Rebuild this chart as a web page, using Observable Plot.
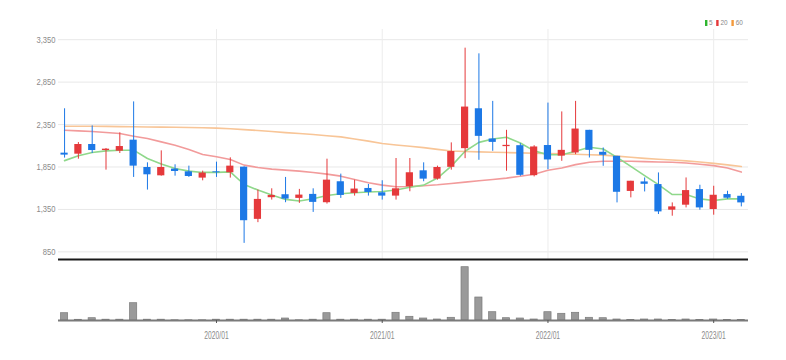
<!DOCTYPE html>
<html>
<head>
<meta charset="utf-8">
<script src="https://cdn.jsdelivr.net/npm/d3@7"></script>
<script src="https://cdn.jsdelivr.net/npm/@observablehq/plot@0.6"></script>
<style>
  body { margin: 0; background: #fff; }
  #wrap { position: relative; width: 786px; height: 360px; overflow: hidden; background: #fff; }
  #wrap svg { position: absolute; left: 0; top: 0; background: transparent; }
  #legend { position: absolute; left: 705px; top: 18px; display: flex; align-items: center; white-space: nowrap;
            font: 8px "Liberation Sans", Arial, sans-serif; color: #888;
            transform: scaleX(0.8); transform-origin: 0 50%; }
  #legend .sw { display: inline-block; width: 3px; height: 6px; margin-right: 2px; }
  #legend .lb { margin-right: 5px; }
</style>
</head>
<body>
<div id="wrap"></div>
<script>
const months = ["2019/02","2019/03","2019/04","2019/05","2019/06","2019/07","2019/08","2019/09","2019/10","2019/11","2019/12",
  "2020/01","2020/02","2020/03","2020/04","2020/05","2020/06","2020/07","2020/08","2020/09","2020/10","2020/11","2020/12",
  "2021/01","2021/02","2021/03","2021/04","2021/05","2021/06","2021/07","2021/08","2021/09","2021/10","2021/11","2021/12",
  "2022/01","2022/02","2022/03","2022/04","2022/05","2022/06","2022/07","2022/08","2022/09","2022/10","2022/11","2022/12",
  "2023/01","2023/02","2023/03"];
const open  = [2013,2001,2115,2044,2036,2166,1844,1746,1825,1793,1719,1793,1782,1848,1233,1488,1523,1480,1527,1429,1676,1539,1597,1546,1507,1617,1805,1707,1846,2066,2536,2180,2090,2101,1748,2103,1978,2015,2282,2023,1976,1562,1674,1643,1341,1400,1584,1349,1525,1505];
const high  = [2536,2138,2334,2068,2252,2617,1899,2040,1876,1860,1801,1907,1958,1852,1578,1593,1727,1586,1593,1942,1766,1695,1644,1688,1950,1950,1899,1860,2134,3250,3183,2623,2282,2125,2101,2603,2499,2623,2282,2074,1976,1682,1721,1780,1427,1721,1635,1623,1564,1537];
const low   = [1955,1942,2009,1813,2009,1727,1578,1742,1742,1727,1687,1727,1719, 950,1194,1460,1429,1421,1315,1413,1480,1507,1507,1460,1460,1558,1676,1695,1813,1948,1929,2035,1800,1740,1733,1819,1917,1995,1956,1858,1427,1486,1556,1290,1270,1368,1341,1282,1470,1380];
const close = [1990,2115,2044,2060,2091,1860,1758,1844,1797,1738,1778,1782,1860,1217,1468,1515,1472,1519,1433,1695,1515,1590,1550,1507,1593,1782,1707,1844,2032,2556,2211,2140,2105,1752,2086,1933,2046,2297,2046,1988,1552,1682,1646,1321,1380,1572,1368,1517,1482,1427];
const volume = [730,70,230,80,80,1730,80,80,20,20,20,80,80,80,80,80,200,20,80,730,80,80,80,80,770,370,200,100,270,5330,2300,830,230,200,100,830,670,770,270,230,100,40,100,100,40,100,40,100,40,40];
const ma5  = [1925,1982,2020,2040,2048,2048,1950,1884,1833,1801,1786,1786,1793,1644,1578,1519,1468,1450,1475,1515,1535,1546,1555,1562,1578,1612,1636,1720,1860,2035,2140,2180,2200,2133,2040,1995,1995,2035,2082,2062,1964,1858,1748,1643,1525,1525,1474,1455,1474,1474];
const ma20 = [2283,2275,2268,2256,2244,2213,2185,2146,2107,2056,1997,1970,1938,1872,1844,1825,1813,1801,1786,1766,1742,1703,1664,1636,1617,1621,1629,1640,1656,1672,1688,1703,1719,1740,1765,1811,1839,1878,1905,1917,1917,1917,1913,1909,1905,1897,1882,1866,1839,1790];
const ma60 = [2330,2330,2330,2328,2326,2324,2322,2320,2318,2315,2312,2308,2300,2290,2280,2268,2255,2244,2232,2218,2205,2180,2155,2127,2110,2095,2078,2058,2038,2032,2028,2024,2020,2016,2012,2008,2004,2000,1995,1990,1978,1965,1952,1942,1933,1922,1908,1893,1875,1855];
const priceTicks = [850,1350,1850,2350,2850,3350];
const xTickLabels = ["2020/01","2021/01","2022/01","2023/01"];
const maNames = ["5","20","60"];
const maColors = ["#8fd88b","#f29b9b","#f8c597"];
const legendColors = ["#2fb52f","#e5393b","#f39a3c"];

const RED = "#e5393b", BLUE = "#1c78e6";
const idx = s => { const [y, m] = s.split("/").map(Number); return (y - 2019) * 12 + (m - 1); };
const rows = months.map((mo, k) => ({
  i: idx(mo), open: open[k], high: high[k], low: low[k], close: close[k], vol: volume[k],
  ma5: ma5[k], ma20: ma20[k], ma60: ma60[k], up: close[k] >= open[k]
}));
const xTicks = xTickLabels.map(idx);
const xDomain = [0.56, 50.52];
const bw = 0.26;
const FONT = '"Liberation Sans", Arial, sans-serif';
const up = rows.filter(d => d.up), down = rows.filter(d => !d.up);

const price = Plot.plot({
  width: 786, height: 360,
  marginTop: 29, marginBottom: 101, marginLeft: 58, marginRight: 38,
  style: { fontFamily: FONT, color: "#888", background: "transparent" },
  x: { type: "linear", domain: xDomain, axis: null },
  y: { domain: [760, 3470], axis: null },
  marks: [
    Plot.gridY(priceTicks, { stroke: "#e8e8e8", strokeOpacity: 1 }),
    Plot.gridX(xTicks, { stroke: "#ececec", strokeOpacity: 1 }),
    Plot.axisY(priceTicks, { tickSize: 0, tickPadding: 3, tickFormat: d3.format(","), fontSize: 9.5, fill: "#8a8a8a" }),
    Plot.line(rows, { x: "i", y: "ma60", stroke: maColors[2], strokeWidth: 1.6 }),
    Plot.line(rows, { x: "i", y: "ma20", stroke: maColors[1], strokeWidth: 1.6 }),
    Plot.line(rows, { x: "i", y: "ma5", stroke: maColors[0], strokeWidth: 1.6 }),
    Plot.ruleX(up, { x: "i", y1: "low", y2: "high", stroke: RED, strokeWidth: 1 }),
    Plot.ruleX(down, { x: "i", y1: "low", y2: "high", stroke: BLUE, strokeWidth: 1 }),
    Plot.rect(up, { x1: d => d.i - bw, x2: d => d.i + bw, y1: "open", y2: "close", fill: RED }),
    Plot.rect(down, { x1: d => d.i - bw, x2: d => d.i + bw, y1: "open", y2: "close", fill: BLUE }),
    Plot.ruleY([760], { stroke: "#1a1a1a", strokeWidth: 2 })
  ]
});

const vol = Plot.plot({
  width: 786, height: 360,
  marginTop: 262, marginBottom: 40, marginLeft: 58, marginRight: 38,
  style: { fontFamily: FONT, color: "#888", background: "transparent" },
  x: { type: "linear", domain: xDomain, axis: null },
  y: { domain: [0, 5800], axis: null },
  marks: [
    Plot.rect(rows, { x1: d => d.i - bw, x2: d => d.i + bw, y1: 0, y2: "vol", fill: "#9a9a9a", stroke: "#7a7a7a", strokeWidth: 0.7 }),
    Plot.ruleY([0], { stroke: "#7a7a7a", strokeWidth: 2 }),
    Plot.axisX(xTicks, { tickSize: 3, tickPadding: 8, stroke: "#555", fill: "#8a8a8a", fontSize: 10.5,
      tickFormat: d => xTickLabels[xTicks.indexOf(d)] })
  ]
});

const wrap = document.getElementById("wrap");
wrap.appendChild(price);
wrap.appendChild(vol);

// condensed look of the tick labels
function condense(svg, factor) {
  svg.querySelectorAll("text").forEach(t => {
    const L = t.getComputedTextLength();
    if (L > 0) {
      t.setAttribute("textLength", (L * factor).toFixed(2));
      t.setAttribute("lengthAdjust", "spacingAndGlyphs");
    }
  });
}
condense(price, 0.8);
condense(vol, 0.64);

const legend = document.createElement("div");
legend.id = "legend";
maNames.forEach((n, k) => {
  const sw = document.createElement("span");
  sw.className = "sw"; sw.style.background = legendColors[k];
  const t = document.createElement("span"); t.className = "lb"; t.textContent = n;
  legend.appendChild(sw); legend.appendChild(t);
});
wrap.appendChild(legend);
</script>
</body>
</html>
